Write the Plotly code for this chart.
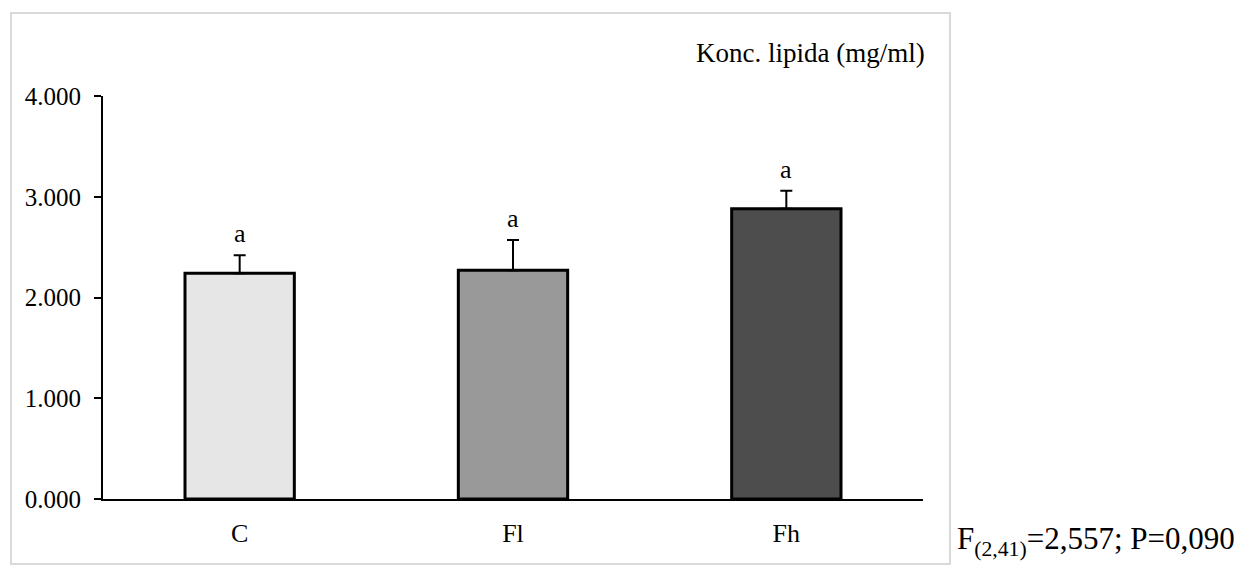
# Bar chart of lipid concentration per group, with upper error bars and letters
import plotly.graph_objects as go

# data
groups = ["C", "Fl", "Fh"]
means = [2.24, 2.27, 2.88]
errors = [0.18, 0.30, 0.18]
letters = ["a", "a", "a"]
bar_colors = ["#e6e6e6", "#999999", "#4d4d4d"]

tick_values = [0, 1, 2, 3, 4]
tick_labels = ["0.000", "1.000", "2.000", "3.000", "4.000"]

serif = "Liberation Serif, Times New Roman, serif"

fig = go.Figure()

fig.add_trace(go.Bar(
    x=groups,
    y=means,
    width=0.4,
    marker=dict(color=bar_colors, line=dict(color="black", width=3)),
    error_y=dict(
        type="data",
        symmetric=False,
        array=errors,
        arrayminus=[0] * len(errors),
        color="black",
        thickness=2,
        width=6,
    ),
    hoverinfo="x+y",
))

# letters above each error bar
for g, m, e, t in zip(groups, means, errors, letters):
    fig.add_annotation(
        x=g, y=m + e, text=t, showarrow=False,
        yanchor="bottom", yshift=5,
        font=dict(family=serif, size=26, color="black"),
    )

# axis title placed top right like in the original
fig.add_annotation(
    xref="paper", yref="paper", x=1.005, y=1.107,
    text="Konc. lipida (mg/ml)", showarrow=False,
    xanchor="right", yanchor="middle",
    font=dict(family=serif, size=27, color="black"),
)

# statistics text outside the frame
fig.add_annotation(
    xref="paper", yref="paper", x=1.039, y=-0.104,
    text="F<sub>(2,41)</sub>=2,557; P=0,090", showarrow=False,
    xanchor="left", yanchor="middle",
    font=dict(family=serif, size=31, color="black"),
)

# light grey frame around the chart
fig.add_shape(
    type="rect", xref="paper", yref="paper",
    x0=-0.1122, x1=1.0329, y0=-0.161, y1=1.206,
    line=dict(color="#d9d9d9", width=2),
)

# page has an 8px body margin, so the figure is 8px smaller than the window
fig.update_layout(
    width=1239,
    height=561,
    margin=dict(l=95, r=324, t=88, b=70),
    plot_bgcolor="white",
    paper_bgcolor="white",
    showlegend=False,
    font=dict(family=serif, size=26, color="black"),
)

fig.update_xaxes(
    showline=True, linecolor="black", linewidth=2,
    showgrid=False, ticks="",
    ticklabelstandoff=10,
    tickfont=dict(family=serif, size=26, color="black"),
)

fig.update_yaxes(
    range=[0, 4],
    tickvals=tick_values,
    ticktext=tick_labels,
    showline=True, linecolor="black", linewidth=2,
    showgrid=False, zeroline=False,
    ticks="outside", ticklen=7, tickwidth=2, tickcolor="black",
    ticklabelstandoff=8,
    tickfont=dict(family=serif, size=25, color="black"),
)

fig.write_html("out.html")
